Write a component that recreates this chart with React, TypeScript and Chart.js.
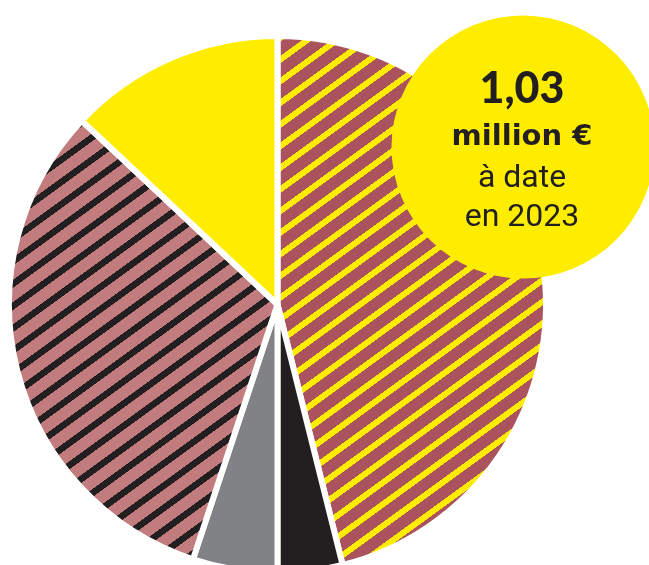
import React, { useEffect, useRef } from "react";
import { Chart, registerables } from "chart.js";

Chart.register(...registerables);

// ---- data ----
const categories = ["Part 1", "Part 2", "Part 3", "Part 4", "Part 5"];
const shares = [46.1, 3.9, 5.1, 31.9, 13.0];
const headlineLines = ["1,03", "million €", "à date", "en 2023"];

const YELLOW = "#FFED00";
const MAROON = "#AA525E";
const PINK = "#C27C7E";
const BLACK = "#231F20";
const GREY = "#808285";

function stripes(bg: string, fg: string, period: number, thick: number, angleDeg: number) {
  const S = 4;
  const c = document.createElement("canvas");
  c.width = 8 * S;
  c.height = period * S;
  const x = c.getContext("2d")!;
  x.fillStyle = bg;
  x.fillRect(0, 0, c.width, c.height);
  x.fillStyle = fg;
  x.fillRect(0, 0, c.width, Math.round(thick * S));
  const p = x.createPattern(c, "repeat")!;
  p.setTransform(new DOMMatrix().rotate(-angleDeg).scale(1 / S));
  return p;
}

const overlay = {
  id: "bubble",
  afterDraw(chart: any) {
    const ctx = chart.ctx as CanvasRenderingContext2D;
    ctx.save();
    ctx.fillStyle = YELLOW;
    ctx.beginPath();
    ctx.arc(523, 147, 131.5, 0, Math.PI * 2);
    ctx.fill();
    ctx.fillStyle = BLACK;
    ctx.textAlign = "center";
    ctx.textBaseline = "alphabetic";
    const cx = 522;
    ctx.font = "900 43px Lato";
    ctx.fillText(headlineLines[0], cx, 103);
    ctx.font = "bold 29px 'DejaVu Sans'";
    ctx.fillText(headlineLines[1], cx, 145);
    ctx.font = "32px Roboto";
    ctx.fillText(headlineLines[2], cx, 187);
    ctx.fillText(headlineLines[3], cx, 226);
    ctx.restore();
  },
};

export default function App() {
  const ref = useRef<HTMLCanvasElement | null>(null);
  useEffect(() => {
    if (!ref.current) return;
    const p1 = stripes(MAROON, YELLOW, 17.5, 6, 36);
    const p4 = stripes(PINK, BLACK, 18, 6.5, 36);
    const chart = new Chart(ref.current, {
      type: "pie",
      data: {
        labels: categories,
        datasets: [
          {
            data: shares,
            backgroundColor: [p1, BLACK, GREY, p4, YELLOW],
            borderColor: "#ffffff",
            borderWidth: 6,
            hoverOffset: 0,
            radius: 268.5,
          } as any,
        ],
      },
      options: {
        responsive: false,
        animation: false,
        events: [],
        layout: { padding: { left: 10, right: 104, top: 37, bottom: 28 } },
        plugins: { legend: { display: false }, tooltip: { enabled: false } },
      },
      plugins: [overlay],
    });
    (document as any).fonts
      ?.load?.("900 43px Lato")
      .then(() => (document as any).fonts.load("32px Roboto"))
      .then(() => chart.draw())
      .catch(() => {});
    return () => chart.destroy();
  }, []);
  return (
    <div
      style={{
        position: "fixed",
        left: 0,
        top: 0,
        width: 649,
        height: 565,
        overflow: "hidden",
        background: "#fff",
      }}
    >
      <canvas ref={ref} width={649} height={600} style={{ display: "block", width: 649, height: 600 }} />
    </div>
  );
}
